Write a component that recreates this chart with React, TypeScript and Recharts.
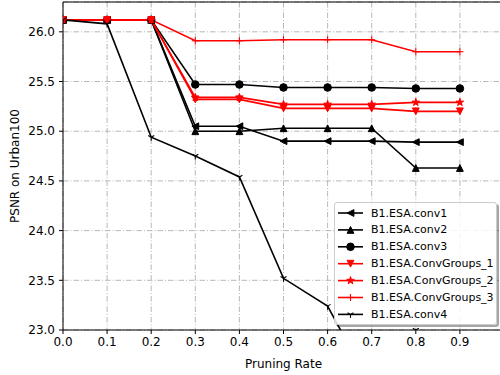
import React from 'react';
import {
  LineChart,
  Line,
  XAxis,
  YAxis,
  CartesianGrid,
  Legend,
  ReferenceLine
} from 'recharts';

// Pruning rates on the x axis
const rates = [0.0, 0.1, 0.2, 0.3, 0.4, 0.5, 0.6, 0.7, 0.8, 0.9];

// PSNR values per pruned layer
const conv1 = [26.12, 26.12, 26.12, 25.05, 25.05, 24.9, 24.9, 24.9, 24.89, 24.89];
const conv2 = [26.12, 26.12, 26.12, 25.0, 25.0, 25.03, 25.03, 25.03, 24.63, 24.63];
const conv3 = [26.12, 26.12, 26.12, 25.47, 25.47, 25.44, 25.44, 25.44, 25.43, 25.43];
const convGroups1 = [26.12, 26.12, 26.12, 25.32, 25.32, 25.23, 25.23, 25.23, 25.2, 25.2];
const convGroups2 = [26.12, 26.12, 26.12, 25.34, 25.34, 25.27, 25.27, 25.27, 25.29, 25.29];
const convGroups3 = [26.12, 26.12, 26.12, 25.91, 25.91, 25.92, 25.92, 25.92, 25.8, 25.8];
const conv4 = [26.12, 26.08, 24.94, 24.75, 24.54, 23.52, 23.24, 22.42, 23.0, 22.6];

const xTicks = [0.0, 0.1, 0.2, 0.3, 0.4, 0.5, 0.6, 0.7, 0.8, 0.9];
const yTicks = [23.0, 23.5, 24.0, 24.5, 25.0, 25.5, 26.0];

type MarkerKind = 'left' | 'up' | 'circle' | 'down' | 'star' | 'plus' | 'tri';

const series: { key: string; name: string; color: string; marker: MarkerKind; values: number[] }[] = [
  { key: 'conv1', name: 'B1.ESA.conv1', color: '#000000', marker: 'left', values: conv1 },
  { key: 'conv2', name: 'B1.ESA.conv2', color: '#000000', marker: 'up', values: conv2 },
  { key: 'conv3', name: 'B1.ESA.conv3', color: '#000000', marker: 'circle', values: conv3 },
  { key: 'cg1', name: 'B1.ESA.ConvGroups_1', color: '#ff0000', marker: 'down', values: convGroups1 },
  { key: 'cg2', name: 'B1.ESA.ConvGroups_2', color: '#ff0000', marker: 'star', values: convGroups2 },
  { key: 'cg3', name: 'B1.ESA.ConvGroups_3', color: '#ff0000', marker: 'plus', values: convGroups3 },
  { key: 'conv4', name: 'B1.ESA.conv4', color: '#000000', marker: 'tri', values: conv4 }
];

const chartData = rates.map((r, i) => {
  const row: Record<string, number> = { rate: r };
  series.forEach(s => {
    row[s.key] = s.values[i];
  });
  return row;
});

const FONT = '"DejaVu Sans", sans-serif';

function starPoints(cx: number, cy: number, r: number) {
  const inner = r * 0.381966;
  const pts: string[] = [];
  for (let i = 0; i < 10; i++) {
    const a = -Math.PI / 2 + (i * Math.PI) / 5;
    const rr = i % 2 === 0 ? r : inner;
    pts.push(`${cx + rr * Math.cos(a)},${cy + rr * Math.sin(a)}`);
  }
  return pts.join(' ');
}

function Marker({ kind, cx, cy, color }: { kind: MarkerKind; cx: number; cy: number; color: string }) {
  const s = 3.4;
  switch (kind) {
    case 'circle':
      return <circle cx={cx} cy={cy} r={3.8} fill={color} stroke={color} strokeWidth={1} />;
    case 'up':
      return (
        <polygon
          points={`${cx},${cy - s} ${cx - s},${cy + s} ${cx + s},${cy + s}`}
          fill={color}
          stroke={color}
          strokeWidth={1}
        />
      );
    case 'down':
      return (
        <polygon
          points={`${cx},${cy + s} ${cx - s},${cy - s} ${cx + s},${cy - s}`}
          fill={color}
          stroke={color}
          strokeWidth={1}
        />
      );
    case 'left':
      return (
        <polygon
          points={`${cx - s},${cy} ${cx + s},${cy - s} ${cx + s},${cy + s}`}
          fill={color}
          stroke={color}
          strokeWidth={1}
        />
      );
    case 'star':
      return <polygon points={starPoints(cx, cy, 4)} fill={color} stroke={color} strokeWidth={1} />;
    case 'plus':
      return (
        <g stroke={color} strokeWidth={1.1}>
          <line x1={cx - 3.5} y1={cy} x2={cx + 3.5} y2={cy} />
          <line x1={cx} y1={cy - 3.5} x2={cx} y2={cy + 3.5} />
        </g>
      );
    case 'tri':
      return (
        <g stroke={color} strokeWidth={1.1}>
          <line x1={cx} y1={cy} x2={cx} y2={cy + 3.5} />
          <line x1={cx} y1={cy} x2={cx - 3} y2={cy - 1.75} />
          <line x1={cx} y1={cy} x2={cx + 3} y2={cy - 1.75} />
        </g>
      );
  }
  return null;
}

const renderLegend = () => (
  <div
    style={{
      width: 163,
      height: 123,
      background: 'rgba(255,255,255,0.85)',
      border: '1px solid #cccccc',
      borderRadius: 3,
      boxShadow: '2px 2px 0 rgba(0,0,0,0.35)',
      boxSizing: 'border-box'
    }}
  >
    <svg width={163} height={123} style={{ display: 'block' }}>
      {series.map((s, i) => {
        const y = 10 + i * 16.9;
        return (
          <g key={s.key}>
            <line x1={3} y1={y} x2={28} y2={y} stroke={s.color} strokeWidth={1.6} />
            <Marker kind={s.marker} cx={15.5} cy={y} color={s.color} />
            <text x={36} y={y} dominantBaseline="central" fontSize={11} fontFamily={FONT} fill="#000">
              {s.name}
            </text>
          </g>
        );
      })}
    </svg>
  </div>
);

export default function App() {
  return (
    <div
      style={{
        position: 'absolute',
        left: 0,
        top: 0,
        width: 500,
        height: 375,
        overflow: 'hidden',
        background: '#fff'
      }}
    >
      <LineChart
        width={506}
        height={375}
        data={chartData}
        margin={{ top: 2, right: 2, left: 0, bottom: 0 }}
        style={{ fontFamily: FONT }}
      >
        <CartesianGrid stroke="#b0b0b0" strokeWidth={0.9} strokeDasharray="5.5 2 1 2" />
        <XAxis
          dataKey="rate"
          type="number"
          domain={[0, 1]}
          ticks={xTicks}
          tickFormatter={(v: number) => v.toFixed(1)}
          allowDataOverflow
          height={45}
          stroke="#000"
          tickSize={4}
          tickMargin={3}
          tick={{ fill: '#000', fontSize: 12, fontFamily: FONT }}
          label={{ value: 'Pruning Rate', position: 'insideBottom', offset: 7, fill: '#000', fontSize: 12, fontFamily: FONT }}
        />
        <YAxis
          type="number"
          domain={[23, 26.3]}
          ticks={yTicks}
          tickFormatter={(v: number) => v.toFixed(1)}
          allowDataOverflow
          width={63}
          stroke="#000"
          tickSize={4}
          tickMargin={4}
          tick={{ fill: '#000', fontSize: 12, fontFamily: FONT }}
          label={{ value: 'PSNR on Urban100', angle: -90, position: 'center', dx: -16.5, fill: '#000', fontSize: 12, fontFamily: FONT }}
        />
        <ReferenceLine y={26.3} stroke="#000" strokeWidth={1} />
        {series.map(s => (
          <Line
            key={s.key}
            dataKey={s.key}
            name={s.name}
            type="linear"
            stroke={s.color}
            strokeWidth={1.6}
            isAnimationActive={false}
            dot={(props: any) => (
              <Marker key={`${s.key}-${props.index}`} kind={s.marker} cx={props.cx} cy={props.cy} color={s.color} />
            )}
            activeDot={false}
          />
        ))}
        <Legend
          layout="vertical"
          align="center"
          verticalAlign="middle"
          wrapperStyle={{ left: 334, top: 202, width: 163, height: 123 }}
          content={renderLegend}
        />
      </LineChart>
    </div>
  );
}
